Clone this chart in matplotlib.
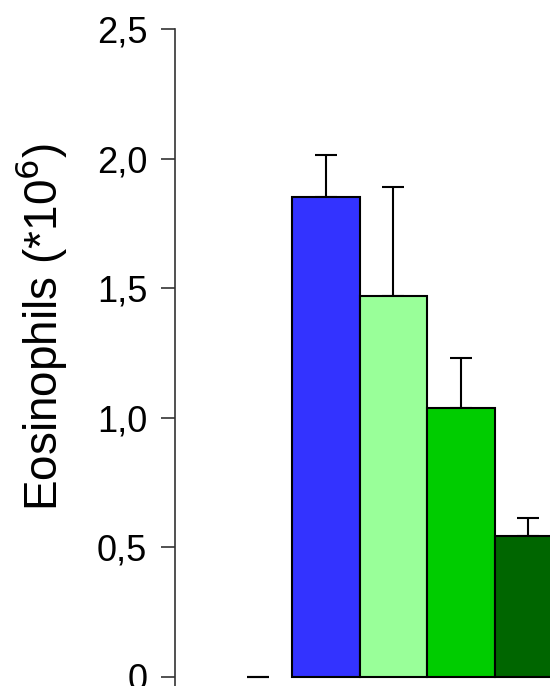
import numpy as np
import matplotlib.pyplot as plt

plt.rcParams['font.family'] = ['Liberation Sans', 'DejaVu Sans']

groups = ['ctrl', 'g1', 'g2', 'g3', 'g4']
values = [0.0, 1.853, 1.47, 1.039, 0.545]
errors = [0.0, 0.16, 0.42, 0.19, 0.067]
colors = ['white', '#3333ff', '#99ff99', '#00cc00', '#006600']
edges = ['none', 'black', 'black', 'black', 'black']
yticks = [0, 0.5, 1.0, 1.5, 2.0, 2.5]
ytick_labels = ['0', '0,5', '1,0', '1,5', '2,0', '2,5']

fig = plt.figure(figsize=(5.5, 6.86), dpi=100)
ax = fig.add_axes([175 / 550, 0.0, 375 / 550, 1 - 29 / 686])

x = np.arange(len(groups))
ax.bar(x, values, width=1.0, color=colors, edgecolor=edges, linewidth=1.5, zorder=2)
ax.errorbar(x, values, yerr=[np.zeros(len(errors)), errors], fmt='none',
            ecolor='black', elinewidth=1.5, capsize=8, capthick=1.5, zorder=1)

ax.set_xlim(-1.237, 4.32)
ax.set_ylim(-0.035, 2.5)
ax.set_yticks(yticks)
ax.set_yticklabels(ytick_labels, fontsize=26)
ax.set_xticks([])
for s in ['top', 'right', 'bottom']:
    ax.spines[s].set_visible(False)
ax.spines['left'].set_linewidth(1.2)
ax.spines['left'].set_color('#333333')
ax.tick_params(axis='y', direction='out', length=10, width=1.2, color='#333333', pad=10)
ax.set_ylabel('Eosinophils (*10$^{6}$)', fontsize=33)
ax.yaxis.set_label_coords(-0.283, 0.546)

fig.savefig('out.png', dpi=100)
